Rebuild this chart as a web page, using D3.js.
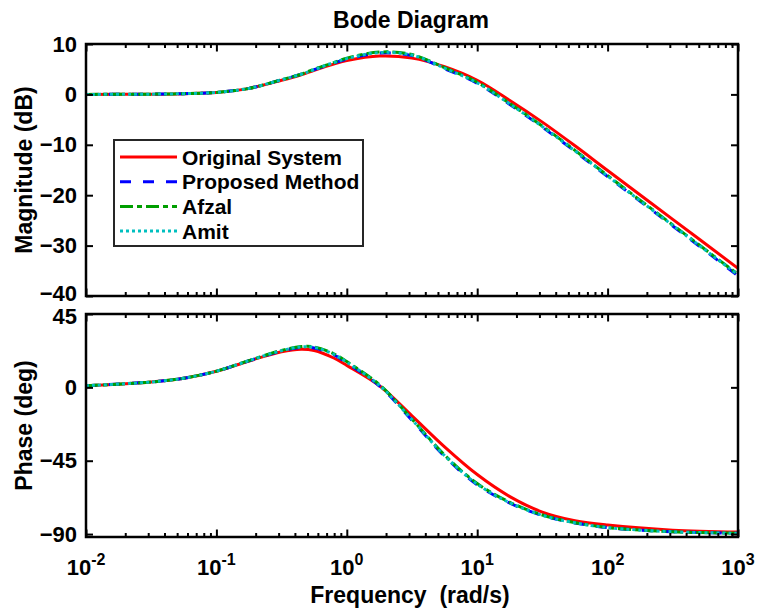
<!DOCTYPE html>
<html>
<head>
<meta charset="utf-8">
<script src="https://cdn.jsdelivr.net/npm/d3@7"></script>
<style>
body { margin: 0; background: #fff; }
text { font-family: "Liberation Sans", Arial, sans-serif; font-weight: bold; fill: #000; }
</style>
</head>
<body>
<svg id="bode" width="759" height="613"></svg>
<script>
// frequencies (rad/s) the values were read at
const freq = [0.01, 0.0316, 0.0562, 0.1, 0.178, 0.316, 0.447, 0.562, 0.794, 1,
              1.78, 3.16, 5.62, 10, 17.8, 31.6, 56.2, 100, 316, 1000];

// magnitude (dB)
const magOriginal = [0.0, 0.05, 0.15, 0.4, 1.2, 2.8, 3.9, 4.8, 6.0, 6.7,
                     7.6, 7.2, 5.5, 2.8, -1.2, -5.5, -10.2, -15.1, -24.8, -34.5];
const magProposed = [0.0, 0.05, 0.15, 0.4, 1.2, 2.9, 4.0, 4.9, 6.2, 7.0,
                     8.2, 7.7, 5.1, 2.2, -2.0, -6.5, -11.3, -16.3, -26.1, -36.0];
const magAfzal    = [0.0, 0.05, 0.15, 0.4, 1.2, 2.9, 4.0, 5.0, 6.3, 7.2,
                     8.4, 7.9, 5.3, 2.4, -1.8, -6.3, -11.1, -16.1, -25.9, -35.7];
const magAmit     = [0.0, 0.05, 0.15, 0.4, 1.2, 2.9, 4.0, 4.9, 6.3, 7.1,
                     8.3, 7.8, 5.2, 2.3, -1.9, -6.4, -11.2, -16.2, -26.0, -35.8];

// phase (deg)
const phOriginal = [1.0, 3.3, 5.6, 9.9, 16.2, 21.9, 23.4, 22.6, 18.0, 13.5,
                    1.0, -17.5, -36.5, -53.5, -67.0, -76.5, -81.8, -84.5, -87.6, -88.8];
const phProposed = [1.0, 3.3, 5.6, 9.9, 16.3, 22.3, 24.5, 24.2, 20.0, 15.0,
                    0.8, -20.2, -42.3, -59.8, -71.0, -78.6, -83.2, -86.1, -88.6, -89.5];
const phAfzal    = [1.0, 3.3, 5.6, 9.9, 16.4, 22.7, 25.0, 24.8, 20.6, 15.8,
                    1.6, -19.5, -41.5, -59.0, -70.5, -78.3, -83.0, -86.0, -88.6, -89.5];
const phAmit     = [1.0, 3.3, 5.6, 9.9, 16.4, 22.5, 24.8, 24.5, 20.3, 15.4,
                    1.2, -19.8, -41.9, -59.4, -70.8, -78.5, -83.1, -86.0, -88.6, -89.5];

const names = ["Original System", "Proposed Method", "Afzal", "Amit"];
const magTicks = [10, 0, -10, -20, -30, -40];
const phTicks = [45, 0, -45, -90];
const decades = [-2, -1, 0, 1, 2, 3];

const colors = ["#ff0000", "#0000ff", "#009e00", "#00bfbf"];
const dashes = [null, "11,12", "13,4,5,4", "3,3"];

const svg = d3.select("#bode");
const left = 86, right = 738;

const x = d3.scaleLog().domain([1e-2, 1e3]).range([left, right]);
const yMag = d3.scaleLinear().domain([-40, 10]).range([296, 44]);
const yPh = d3.scaleLinear().domain([-91.8, 45]).range([537, 314]);

const majors = decades.map(d => Math.pow(10, d));
const minors = [];
decades.slice(0, -1).forEach(d => {
    for (let k = 2; k <= 9; k++) minors.push(k * Math.pow(10, d));
});

function drawPanel(y, ticks, series, id) {
    const top = y.range()[1], bottom = y.range()[0];

    svg.append("clipPath").attr("id", id)
        .append("rect").attr("x", left).attr("y", top)
        .attr("width", right - left).attr("height", bottom - top);

    const line = d3.line()
        .x((d, i) => x(freq[i]))
        .y(d => y(d))
        .curve(d3.curveCatmullRom.alpha(0.5));

    const g = svg.append("g").attr("clip-path", "url(#" + id + ")");
    series.forEach((s, i) => {
        g.append("path")
            .attr("d", line(s))
            .attr("fill", "none")
            .attr("stroke", colors[i])
            .attr("stroke-width", 3)
            .attr("stroke-dasharray", dashes[i]);
    });

    // axes, ticks pointing inward
    const axes = [
        d3.axisLeft(y).tickValues(ticks).tickSize(-7).tickPadding(9),
        d3.axisRight(y).tickValues(ticks).tickSize(-7).tickFormat(""),
        d3.axisBottom(x).tickValues(majors).tickSize(-7.5).tickFormat(""),
        d3.axisBottom(x).tickValues(minors).tickSize(-4).tickFormat(""),
        d3.axisTop(x).tickValues(majors).tickSize(-7.5).tickFormat(""),
        d3.axisTop(x).tickValues(minors).tickSize(-4).tickFormat("")
    ];
    const pos = ["translate(" + left + ",0)", "translate(" + right + ",0)",
                 "translate(0," + bottom + ")", "translate(0," + bottom + ")",
                 "translate(0," + top + ")", "translate(0," + top + ")"];
    axes.forEach((a, i) => {
        const ag = svg.append("g").attr("transform", pos[i]).call(a);
        ag.select(".domain").remove();
        ag.selectAll("line").attr("stroke", "#000").attr("stroke-width", 2);
        ag.selectAll("text").attr("font-size", 22).attr("fill", "#000")
            .style("font-family", "'Liberation Sans', Arial, sans-serif")
            .style("font-weight", "bold");
    });

    svg.append("rect")
        .attr("x", left).attr("y", top)
        .attr("width", right - left).attr("height", bottom - top)
        .attr("fill", "none").attr("stroke", "#000").attr("stroke-width", 2.5);
}

drawPanel(yMag, magTicks, [magOriginal, magProposed, magAfzal, magAmit], "clipMag");
drawPanel(yPh, phTicks, [phOriginal, phProposed, phAfzal, phAmit], "clipPh");

// the -40 and 45 labels sit close together, nudge them apart a little
svg.selectAll(".tick text").filter(d => d === -40).attr("dy", "0.2em");
svg.selectAll(".tick text").filter(d => d === 45).attr("dy", "0.42em");

// frequency tick labels 10^n
decades.forEach(d => {
    const t = svg.append("text")
        .attr("x", x(Math.pow(10, d)))
        .attr("y", 575)
        .attr("text-anchor", "middle")
        .attr("font-size", 22);
    t.append("tspan").text("10");
    t.append("tspan").attr("font-size", 16).attr("dy", -10).text(d);
});

// titles
svg.append("text").attr("x", 411).attr("y", 28)
    .attr("text-anchor", "middle").attr("font-size", 23).text("Bode Diagram");
svg.append("text").attr("x", 410).attr("y", 603)
    .attr("text-anchor", "middle").attr("font-size", 23)
    .attr("xml:space", "preserve").text("Frequency  (rad/s)");
svg.append("text")
    .attr("transform", "translate(32," + (yMag(-15)) + ") rotate(-90)")
    .attr("text-anchor", "middle").attr("font-size", 23).text("Magnitude (dB)");
svg.append("text")
    .attr("transform", "translate(32," + ((yPh.range()[0] + yPh.range()[1]) / 2) + ") rotate(-90)")
    .attr("text-anchor", "middle").attr("font-size", 23).text("Phase (deg)");

// legend
const lg = svg.append("g").attr("transform", "translate(114,140)");
lg.append("rect").attr("width", 249).attr("height", 106)
    .attr("fill", "#fff").attr("stroke", "#262626").attr("stroke-width", 2);
names.forEach((n, i) => {
    const cy = 17 + i * 24.7;
    lg.append("line")
        .attr("x1", 6).attr("x2", 63).attr("y1", cy).attr("y2", cy)
        .attr("stroke", colors[i]).attr("stroke-width", 3)
        .attr("stroke-dasharray", dashes[i]);
    lg.append("text").attr("x", 68).attr("y", cy + 7.5)
        .attr("font-size", 21).text(n);
});
</script>
</body>
</html>
